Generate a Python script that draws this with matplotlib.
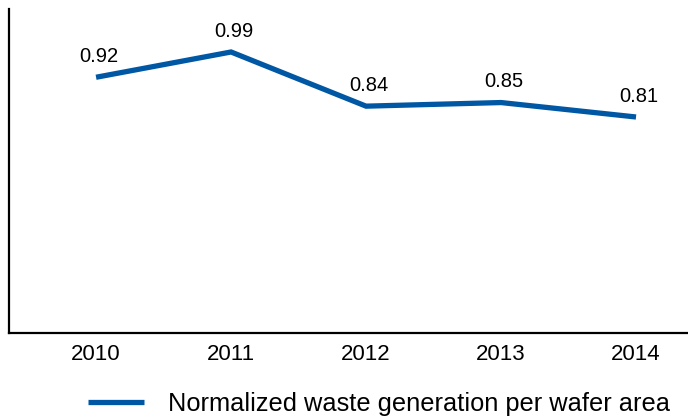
import matplotlib.pyplot as plt

years = ['2010', '2011', '2012', '2013', '2014']
waste = [0.92, 0.99, 0.84, 0.85, 0.81]
series_name = 'Normalized waste generation per wafer area'

plt.rcParams['font.family'] = ['Liberation Sans', 'DejaVu Sans']

fig = plt.figure(figsize=(6.88, 4.19), dpi=100)
ax = fig.add_axes([9 / 688, 86 / 419, 679 / 688, 324 / 419])

x = list(range(len(years)))
line, = ax.plot(x, waste, color='#0057a4', linewidth=3.8, solid_capstyle='butt',
                solid_joinstyle='miter', label=series_name)

for xi, v in zip(x, waste):
    ax.annotate(f'{v:.2f}', (xi, v), xytext=(2, 15), textcoords='offset points',
                ha='center', va='center', fontsize=14.5)

ax.set_xlim(-0.645, 4.385)
ax.set_ylim(0.212, 1.109)
ax.set_xticks(x)
ax.set_xticklabels(years, fontsize=16)
ax.set_yticks([])
ax.tick_params(axis='x', length=0, pad=8)

for side in ['top', 'right']:
    ax.spines[side].set_visible(False)
for side in ['left', 'bottom']:
    ax.spines[side].set_linewidth(1.6)
    ax.spines[side].set_color('black')

fig.legend(handles=[line], loc='center', bbox_to_anchor=(0.551, 15 / 419),
           frameon=False, fontsize=18.3, handlelength=2.2, handletextpad=0.95,
           borderpad=0, borderaxespad=0)

fig.savefig('out.png', dpi=100)
